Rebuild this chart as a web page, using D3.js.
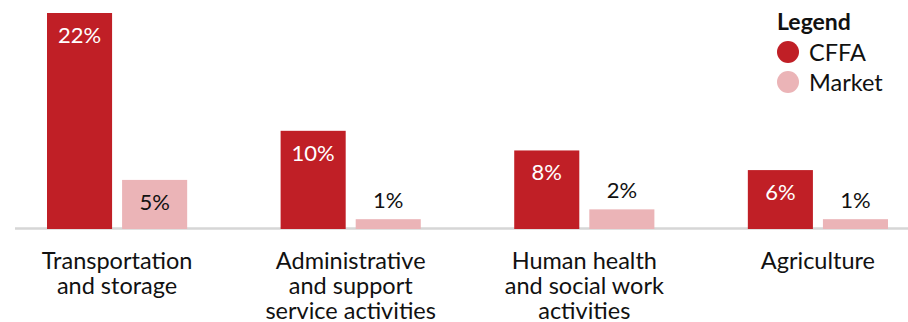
<!DOCTYPE html>
<html>
<head>
<meta charset="utf-8">
<script src="https://cdn.jsdelivr.net/npm/d3@7"></script>
<style>
  html, body { margin: 0; padding: 0; background: #fff; }
  svg { display: block; font-family: "Lato", "Open Sans", sans-serif; }
</style>
</head>
<body>
<svg id="chart" width="908" height="322"></svg>
<script>
const categories = ["Transportation and storage", "Administrative and support service activities", "Human health and social work activities", "Agriculture"];
const categoryLines = [["Transportation", "and storage"], ["Administrative", "and support", "service activities"], ["Human health", "and social work", "activities"], ["Agriculture"]];
const seriesNames = ["CFFA", "Market"];
const cffaValues = [22, 10, 8, 6];
const marketValues = [5, 1, 2, 1];
const colors = { CFFA: "#c01f26", Market: "#ebb4b7" };

const svg = d3.select("#chart");
const W = 908;
const baseline = 229;

const x0 = d3.scaleBand().domain(categories).range([47, 888]).paddingInner(0.4).paddingOuter(0);
const x1 = d3.scaleBand().domain(seriesNames).range([0, x0.bandwidth()]).paddingInner(10 / 75).paddingOuter(0);
const y = d3.scaleLinear().domain([0, d3.max(cffaValues.concat(marketValues))]).range([baseline, 13]);

// baseline axis line
svg.append("line")
  .attr("x1", 15).attr("x2", W)
  .attr("y1", baseline - 0.5).attr("y2", baseline - 0.5)
  .attr("stroke", "#d6d6d6").attr("stroke-width", 2.5);

const rows = categories.map((c, i) => ({
  cat: c,
  vals: [{ s: "CFFA", v: cffaValues[i] }, { s: "Market", v: marketValues[i] }]
}));

const g = svg.selectAll("g.grp").data(rows).join("g")
  .attr("class", "grp")
  .attr("transform", d => `translate(${x0(d.cat)},0)`);

g.selectAll("rect").data(d => d.vals).join("rect")
  .attr("x", d => x1(d.s))
  .attr("y", d => y(d.v))
  .attr("width", x1.bandwidth())
  .attr("height", d => baseline - y(d.v))
  .attr("fill", d => colors[d.s]);

g.selectAll("text.val").data(d => d.vals).join("text")
  .attr("class", "val")
  .attr("x", d => x1(d.s) + x1.bandwidth() / 2)
  .attr("y", d => (baseline - y(d.v)) > 35 ? y(d.v) + 30 : y(d.v) - 11)
  .attr("text-anchor", "middle")
  .attr("font-size", 22)
  .attr("fill", d => ((baseline - y(d.v)) > 35 && d.s === "CFFA") ? "#ffffff" : "#111111")
  .text(d => d.v + "%");

// category labels
const labels = svg.selectAll("text.cat").data(categories).join("text")
  .attr("class", "cat")
  .attr("x", d => x0(d) + x0.bandwidth() / 2)
  .attr("y", 269)
  .attr("text-anchor", "middle")
  .attr("font-size", 23.5)
  .attr("fill", "#111111");
labels.selectAll("tspan").data((d, i) => categoryLines[i]).join("tspan")
  .attr("x", function() { return d3.select(this.parentNode).attr("x"); })
  .attr("dy", (d, j) => j === 0 ? 0 : 25)
  .text(d => d);

// legend
const legend = svg.append("g").attr("transform", "translate(777,0)");
legend.append("text")
  .attr("x", 0).attr("y", 29.5)
  .attr("font-size", 23).attr("font-weight", "bold").attr("fill", "#111")
  .text("Legend");
const li = legend.selectAll("g.li").data(seriesNames).join("g")
  .attr("class", "li")
  .attr("transform", (d, i) => `translate(0,${52 + i * 30})`);
li.append("circle").attr("cx", 11).attr("cy", 0).attr("r", 11).attr("fill", d => colors[d]);
li.append("text").attr("x", 32).attr("y", 8.5)
  .attr("font-size", 23.5).attr("fill", "#111111")
  .text(d => d);
</script>
</body>
</html>
